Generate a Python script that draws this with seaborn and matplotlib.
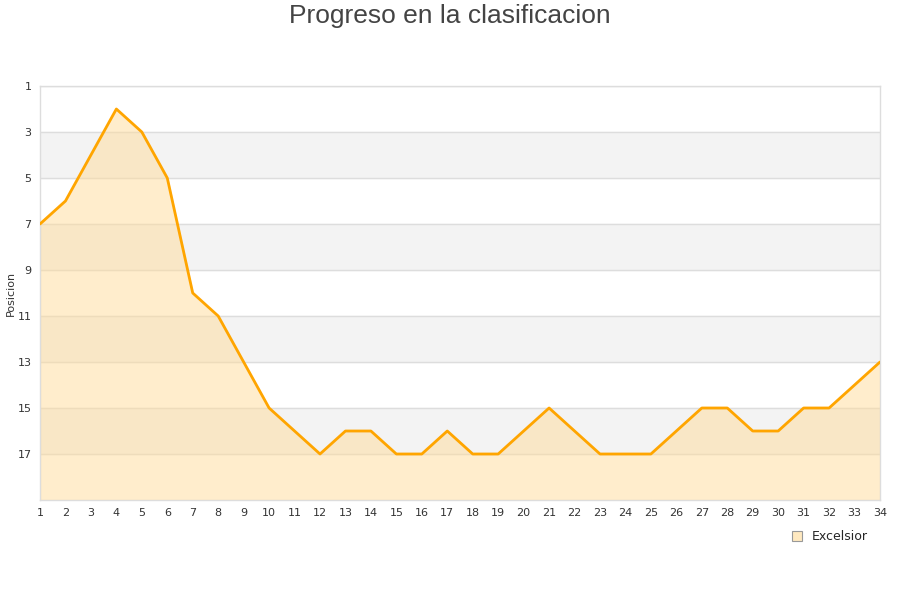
import pandas as pd
import matplotlib.pyplot as plt
import seaborn as sns

# Datos de la clasificacion
jornadas = list(range(1, 35))
posiciones = [7, 6, 4, 2, 3, 5, 10, 11, 13, 15, 16, 17, 16, 16, 17, 17, 16,
              17, 17, 16, 15, 16, 17, 17, 17, 16, 15, 15, 16, 16, 15, 15, 14, 13]
equipo = 'Excelsior'
y_ticks = [1, 3, 5, 7, 9, 11, 13, 15, 17]

sns.set_style("white")
plt.rcParams['font.family'] = ['DejaVu Sans']

df = pd.DataFrame({'Jornada': jornadas, 'Posicion': posiciones})

fig = plt.figure(figsize=(9, 6), dpi=100)
ax = fig.add_axes([40 / 900, 100 / 600, 840 / 900, 414 / 600])

# bandas alternas
for lo in range(3, 19, 4):
    ax.axhspan(lo, lo + 2, color='#f3f3f3', zorder=0)
for t in y_ticks:
    ax.axhline(t, color='#dddddd', lw=1, zorder=1)

ax.fill_between(df['Jornada'], df['Posicion'], 19, color='#ffdc9a', alpha=0.5, zorder=2)
sns.lineplot(data=df, x='Jornada', y='Posicion', ax=ax, color='#ffa500', lw=2,
             zorder=3, legend=False)

ax.set_xlim(1, 34)
ax.set_ylim(19, 1)
ax.set_xticks(jornadas)
ax.set_yticks(y_ticks)
ax.tick_params(axis='both', labelsize=8, colors='#333333', length=0, pad=6)
ax.set_xlabel('')
ax.set_ylabel('')
fig.text(11 / 900, 1 - 293 / 600, 'Posicion', rotation=90, fontsize=8,
         color='#333333', ha='center', va='center')
for s in ax.spines.values():
    s.set_color('#dddddd')
    s.set_linewidth(1)

fig.text(0.5, 1 - 16 / 600, 'Progreso en la clasificacion', fontsize=19,
         color='#444444', ha='center', va='center', family='Liberation Sans')

# leyenda
handle = plt.Rectangle((0, 0), 1, 1, facecolor='#ffe9c0', edgecolor='#999999', lw=0.8)
fig.legend([handle], [equipo], loc='center', bbox_to_anchor=(0.922, 0.105),
           frameon=False, fontsize=9, handlelength=0.8, handleheight=0.8,
           handletextpad=0.8)

plt.savefig('out.png', dpi=100)
plt.close()
